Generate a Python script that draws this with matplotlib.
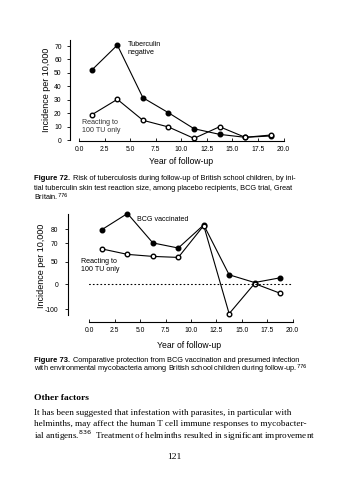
import numpy as np
import matplotlib
matplotlib.use("Agg")
import matplotlib.pyplot as plt

plt.rcParams['font.family'] = ['Liberation Sans', 'DejaVu Sans']

W, H = 346, 480

# ---- data, Figure 72 ----
years = [1.25, 3.75, 6.25, 8.75, 11.25, 13.75, 16.25, 18.75]
tb_negative = [52.1, 70.7, 31.5, 20.3, 8.4, 4.2, 2.0, 3.0]
tb_100tu = [18.8, 30.3, 14.7, 9.7, 1.2, 9.9, 2.0, 3.7]
yticks72 = [0, 10, 20, 30, 40, 50, 60, 70]

# ---- data, Figure 73 ----
bcg_vacc = [79.8, 91.2, 70.3, 64.9, 83.1, 20.9, 3.6, 14.1]
react_100tu = [63.9, 58.0, 55.8, 54.7, 82.6, -117.6, 1.3, -36.0]
yticks73 = [-100, 0, 50, 70, 80]
baseline = 0

xticks = [0.0, 2.5, 5.0, 7.5, 10.0, 12.5, 15.0, 17.5, 20.0]
xticklabels = ['%.1f' % t for t in xticks]

# odd, non-linear y axis of fig 73 (tick value -> height on page)
knot_vals = [-300, -100, 0, 50, 70, 80, 200]
knot_pos = [-39.3, 10.7, 35.7, 58.0, 76.3, 90.3, 258.3]


def fwd(v):
    return np.interp(v, knot_vals, knot_pos)


def inv(p):
    return np.interp(p, knot_pos, knot_vals)


def box(left, top, right, bottom):
    return [left / W, 1 - bottom / H, (right - left) / W, (bottom - top) / H]


def P(x, y):
    return x / W, 1 - y / H


fig = plt.figure(figsize=(W / 100, H / 100), dpi=100)
fig.patch.set_facecolor('white')

tick_font = 4.9
ann_font = 5.1


def style(ax, yoff, xoff):
    for s in ['top', 'right']:
        ax.spines[s].set_visible(False)
    ax.spines['left'].set_position(('outward', yoff))
    ax.spines['bottom'].set_position(('outward', xoff))
    ax.spines['bottom'].set_bounds(0, 20)
    for s in ['left', 'bottom']:
        ax.spines[s].set_linewidth(0.8)
    ax.set_xlim(0, 20)
    ax.set_xticks(xticks)
    ax.set_xticklabels(xticklabels)
    ax.tick_params(axis='x', direction='in', length=2, width=0.6,
                   labelsize=tick_font, pad=3.5)
    ax.tick_params(axis='y', direction='out', length=2.5, width=0.6,
                   labelsize=tick_font, pad=3.2)
    ax.patch.set_visible(False)


mk = dict(color='black', lw=0.8, markersize=3.3, clip_on=False)

# Figure 72
ax1 = fig.add_axes(box(79, 40, 283.5, 140))
ax1.plot(years, tb_negative, marker='o', markerfacecolor='black', **mk)
ax1.plot(years, tb_100tu, marker='o', markerfacecolor='white', **mk)
ax1.set_ylim(0, 74.5)
ax1.set_yticks(yticks72)
style(ax1, 6.8, 1.0)
fig.text(*P(128, 41), 'Tuberculin\nnegative', fontsize=ann_font, va='top', ha='left', linespacing=1.15)
fig.text(*P(82, 119.5), 'Reacting to\n100 TU only', fontsize=ann_font, va='top', ha='left',
         linespacing=1.15, color='#333333')
fig.text(*P(47, 90), 'Incidence per 10,000', fontsize=6.5, rotation=90, ha='center', va='center')
fig.text(*P(181, 162), 'Year of follow-up', fontsize=6.2, ha='center', va='center')

# Figure 73
ax2 = fig.add_axes(box(89.3, 214.5, 292.7, 315))
ax2.set_yscale('function', functions=(fwd, inv))
ax2.plot(years, bcg_vacc, marker='o', markerfacecolor='black', **mk)
ax2.plot(years, react_100tu, marker='o', markerfacecolor='white', **mk)
ax2.plot([0, 20], [baseline, baseline], color='black', lw=0.8,
         linestyle=(0, (0.8, 2.6)), dash_capstyle='round')
ax2.set_ylim(-122.8, 90.5)
ax2.set_yticks(yticks73)
ax2.set_yticklabels([str(t) for t in yticks73])
ax2.yaxis.set_minor_locator(matplotlib.ticker.NullLocator())
style(ax2, 15.1, 5.3)
ax2.tick_params(axis='y', pad=4.6)
fig.text(*P(137, 219.5), 'BCG vaccinated', fontsize=ann_font, va='center', ha='left')
fig.text(*P(81, 258), 'Reacting to\n100 TU only', fontsize=ann_font, va='top', ha='left',
         linespacing=1.15)
fig.text(*P(41.5, 266), 'Incidence per 10,000', fontsize=6.5, rotation=90, ha='center', va='center')
fig.text(*P(189, 345), 'Year of follow-up', fontsize=6.2, ha='center', va='center')

# captions and body text
renderer = fig.canvas.get_renderer()
cap_font = 5.3


def caption(x, y, bold, rest_lines, step):
    t = fig.text(*P(x, y), bold, fontsize=cap_font + 0.2, fontweight='bold',
                 ha='left', va='center')
    bb = t.get_window_extent(renderer)
    fig.text(bb.x1 / W + 3 / W, 1 - y / H, rest_lines[0], fontsize=cap_font,
             ha='left', va='center')
    for i, line in enumerate(rest_lines[1:]):
        fig.text(*P(x, y + step * (i + 1)), line, fontsize=cap_font,
                 ha='left', va='center')


caption(33.5, 179, 'Figure 72.',
        ['Risk of tuberculosis during follow-up of British school children, by ini-',
         'tial tuberculin skin test reaction size, among placebo recipients, BCG trial, Great',
         'Britain.$^{776}$'], 9.2)
caption(33.5, 360, 'Figure 73.',
        ['Comparative protection from BCG vaccination and presumed infection',
         'with environmental mycobacteria among British school children during follow-up.$^{776}$'], 9.5)

serif = ['Liberation Serif', 'DejaVu Serif']
fig.text(*P(34, 397.5), 'Other factors', fontsize=6.8, fontweight='bold', family=serif,
         ha='left', va='center')
body = ['It has been suggested that infestation with parasites, in particular with',
        'helminths, may affect the human T cell immune responses to mycobacter-',
        'ial antigens.$^{836}$  Treatment of helminths resulted in significant improvement']
for i, line in enumerate(body):
    fig.text(*P(34, 413 + 11.2 * i), line, fontsize=6.55, family=serif,
             ha='left', va='center')
fig.text(*P(174, 457), '121', fontsize=6.8, family=serif, ha='center', va='center')

fig.savefig('out.png', dpi=100, facecolor='white')
